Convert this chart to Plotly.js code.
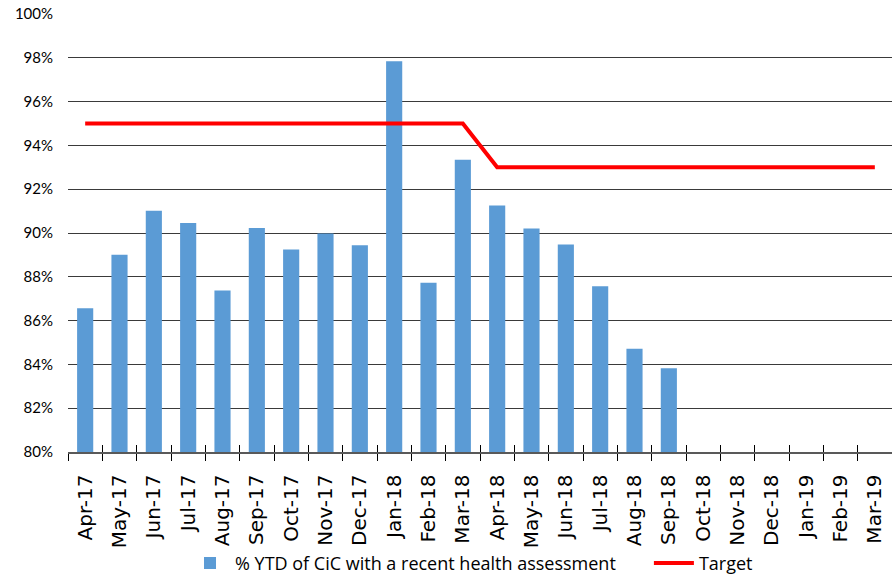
<!DOCTYPE html>
<html>
<head>
<meta charset="utf-8">
<script src="https://cdn.plot.ly/plotly-3.0.1.min.js"></script>
<style>html,body{margin:0;padding:0;background:#fff}#chart{width:892px;height:576px}</style>
</head>
<body>
<div id="chart"></div>
<script>
var months = ["Apr-17","May-17","Jun-17","Jul-17","Aug-17","Sep-17","Oct-17","Nov-17","Dec-17","Jan-18","Feb-18","Mar-18","Apr-18","May-18","Jun-18","Jul-18","Aug-18","Sep-18","Oct-18","Nov-18","Dec-18","Jan-19","Feb-19","Mar-19"];
var ytdValues = [86.56, 89.01, 91.02, 90.46, 87.38, 90.23, 89.25, 89.98, 89.44, 97.84, 87.73, 93.34, 91.26, 90.2, 89.47, 87.57, 84.72, 83.82, null, null, null, null, null, null];
var targetValues = [95, 95, 95, 95, 95, 95, 95, 95, 95, 95, 95, 95, 93, 93, 93, 93, 93, 93, 93, 93, 93, 93, 93, 93];
var yTicks = [80, 82, 84, 86, 88, 90, 92, 94, 96, 98, 100];
var pad = '\u00a0\u00a0\u00a0\u00a0\u00a0\u00a0';

var traces = [
  {type:'bar', x:months, y:ytdValues, base:0, name:'% YTD of CiC with a recent health assessment' + pad,
   marker:{color:'#5B9BD5'}, hoverinfo:'x+y'},
  {type:'scatter', mode:'lines', x:months, y:targetValues, name:'Target',
   line:{color:'#FF0000', width:4}},
  {type:'scatter', mode:'lines', x:months, y:targetValues, xaxis:'x2', showlegend:false,
   line:{color:'rgba(0,0,0,0)', width:0}, hoverinfo:'skip'}
];

var layout = {
  width:892, height:576,
  margin:{l:68, r:0, t:14, b:124},
  paper_bgcolor:'#fff', plot_bgcolor:'#fff',
  bargap:0.53,
  showlegend:true,
  legend:{orientation:'h', x:0.142, xanchor:'left', yref:'container', y:0.022, yanchor:'middle',
    bgcolor:'rgba(0,0,0,0)',
    font:{family:'Open Sans, sans-serif', size:18, color:'#000'}, itemwidth:40, tracegroupgap:0},
  xaxis:{type:'category', categoryorder:'array', categoryarray:months,
    tickangle:-90, tickfont:{family:'DejaVu Sans, sans-serif', size:20, color:'#000'},
    ticks:'outside', ticklen:7, tickcolor:'#000', tickson:'boundaries', ticklabelstandoff:13,
    showline:true, linecolor:'#595959', linewidth:1.5, showgrid:false, zeroline:false,
    automargin:false, range:[-0.5, 23.5]},
  xaxis2:{type:'category', categoryorder:'array', categoryarray:months, overlaying:'x', matches:'x',
    anchor:'y', side:'bottom', ticks:'inside', ticklen:7, tickcolor:'#000', tickson:'boundaries',
    showticklabels:false, showline:false, showgrid:false, zeroline:false},
  yaxis:{range:[80,100], tickvals:yTicks, ticktext:yTicks.map(function(v){return v+'%';}),
    tickfont:{family:'Lato, sans-serif', size:15, color:'#000'},
    showgrid:true, gridcolor:'#3a3a3a', gridwidth:1, zeroline:false, showline:false,
    ticks:'', ticklabelstandoff:14, automargin:false}
};

Plotly.newPlot('chart', traces, layout, {displayModeBar:false, staticPlot:true});
</script>
</body>
</html>
